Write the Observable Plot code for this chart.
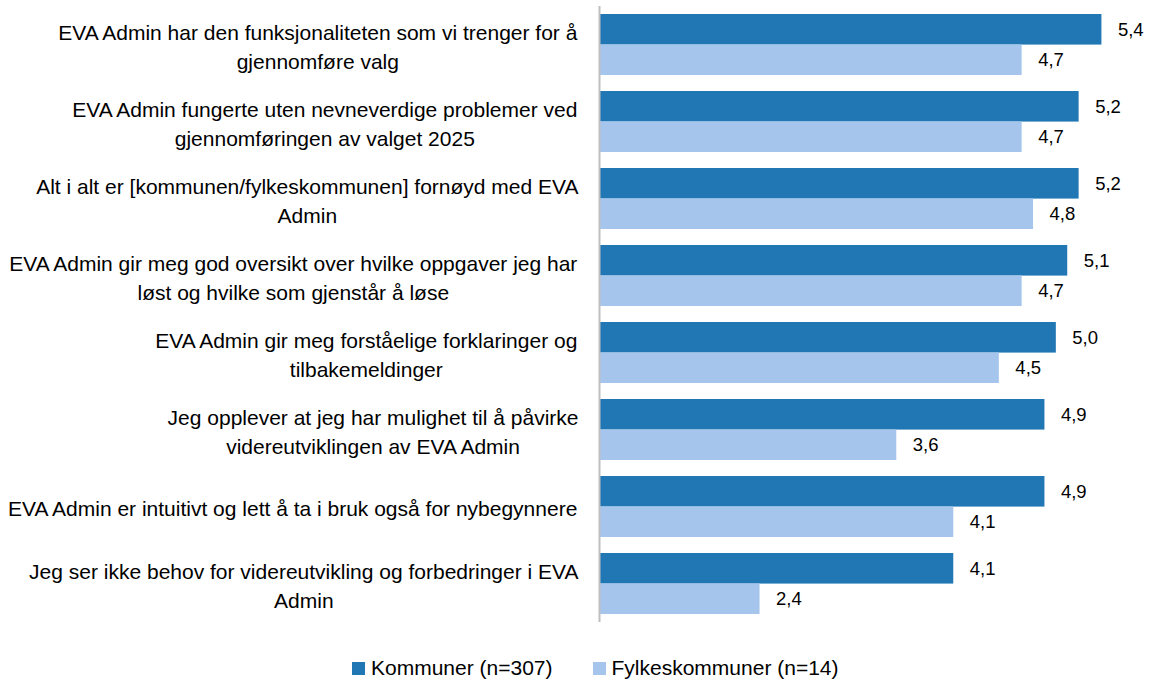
<!DOCTYPE html>
<html>
<head>
<meta charset="utf-8">
<script src="https://cdn.jsdelivr.net/npm/d3@7"></script>
<script src="https://cdn.jsdelivr.net/npm/@observablehq/plot@0.6"></script>
<style>
  body { margin: 0; background: #fff; font-family: "Liberation Sans", Arial, sans-serif; }
  #legend { display: flex; align-items: center; margin-left: 352px; margin-top: 30px; font-size: 21px; color: #000; }
  #legend .item { display: flex; align-items: center; margin-right: 40px; }
  #legend .sw { width: 13px; height: 13px; margin-right: 6px; }
</style>
</head>
<body>
<div id="chart"></div>
<div id="legend"></div>
<script>
const questions = [
  "EVA Admin har den funksjonaliteten som vi trenger for å\ngjennomføre valg",
  "EVA Admin fungerte uten nevneverdige problemer ved\ngjennomføringen av valget 2025",
  "Alt i alt er [kommunen/fylkeskommunen] fornøyd med EVA\nAdmin",
  "EVA Admin gir meg god oversikt over hvilke oppgaver jeg har\nløst og hvilke som gjenstår å løse",
  "EVA Admin gir meg forståelige forklaringer og\ntilbakemeldinger",
  "Jeg opplever at jeg har mulighet til å påvirke\nvidereutviklingen av EVA Admin",
  "EVA Admin er intuitivt og lett å ta i bruk også for nybegynnere",
  "Jeg ser ikke behov for videreutvikling og forbedringer i EVA\nAdmin"
];
const kommuner = [5.4, 5.2, 5.2, 5.1, 5.0, 4.9, 4.9, 4.1];
const fylkeskommuner = [4.7, 4.7, 4.8, 4.7, 4.5, 3.6, 4.1, 2.4];
const seriesNames = ["Kommuner (n=307)", "Fylkeskommuner (n=14)"];
const colors = ["#2077b4", "#a6c5ec"];

const rows = questions.map((q, i) => ({q, k: kommuner[i], f: fylkeskommuner[i]}));
const fmt = v => d3.format(".1f")(v).replace(".", ",");

const W = 1154, H = 626, mT = 6, mB = 4, mL = 600, mR = 7;
const pIn = 0.21, pOut = 0.105;
const step = (H - mT - mB) / (questions.length - pIn + 2 * pOut);
const bw = step * (1 - pIn);
const half = bw / 2;

const ctx = document.createElement("canvas").getContext("2d");
const labelFont = 21;
ctx.font = `${labelFont}px "Liberation Sans"`;

const labelMarks = questions.map(q => {
  const w = d3.max(q.split("\n"), l => ctx.measureText(l).width);
  return Plot.text([q], {
    y: d => d, text: d => d, frameAnchor: "left", textAnchor: "middle",
    dx: -(22 + w / 2), lineHeight: 1.38, fontSize: labelFont, fill: "#000"
  });
});

const chart = Plot.plot({
  width: W, height: H,
  marginTop: mT, marginBottom: mB, marginLeft: mL, marginRight: mR,
  style: {fontFamily: '"Liberation Sans", Arial, sans-serif', fontSize: "18px", background: "#fff"},
  x: {domain: [1, 5.8], axis: null},
  y: {domain: questions, paddingInner: pIn, paddingOuter: pOut, axis: null},
  marks: [
    Plot.barX(rows, {x1: 1, x2: "k", y: "q", fill: colors[0], insetBottom: half}),
    Plot.barX(rows, {x1: 1, x2: "f", y: "q", fill: colors[1], insetTop: half}),
    Plot.ruleX([1], {stroke: "#bfbfbf", strokeWidth: 2, dx: -1}),
    Plot.text(rows, {x: "k", y: "q", dy: -half / 2, dx: 16, textAnchor: "start", text: d => fmt(d.k), fontSize: 18.5, fill: "#000"}),
    Plot.text(rows, {x: "f", y: "q", dy: half / 2, dx: 16, textAnchor: "start", text: d => fmt(d.f), fontSize: 18.5, fill: "#000"}),
    ...labelMarks
  ]
});
document.getElementById("chart").appendChild(chart);

const legend = d3.select("#legend");
seriesNames.forEach((name, i) => {
  const it = legend.append("div").attr("class", "item");
  it.append("div").attr("class", "sw").style("background", colors[i]);
  it.append("span").text(name);
});
</script>
</body>
</html>
